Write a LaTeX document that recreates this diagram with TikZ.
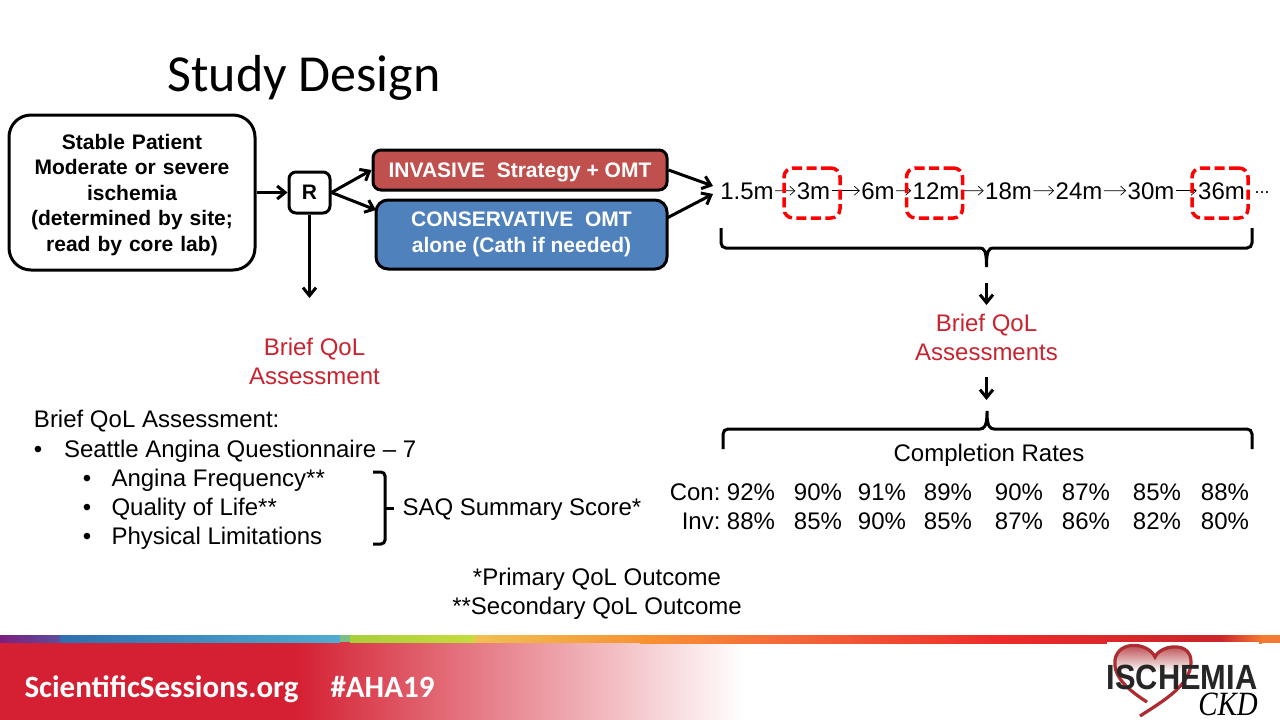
\documentclass[tikz,border=0pt]{standalone}
\usepackage{fontspec}
\setmainfont{Liberation Sans}
\newfontfamily\carlito{Carlito}
\newfontfamily\ckdfont{Liberation Serif}
\usetikzlibrary{arrows.meta}
\definecolor{ahared}{HTML}{D42032}
\definecolor{qolred}{HTML}{C8242F}
\definecolor{invred}{HTML}{C0504D}
\definecolor{conblue}{HTML}{4F81BD}
\definecolor{heartred}{HTML}{AE2B2F}
\begin{document}
\begin{tikzpicture}[x=1pt,y=-1pt,>={Straight Barb[length=8pt,width=13pt,line width=3pt]},line width=3pt,
every node/.style={inner sep=0pt,font=\fontsize{24}{29}\selectfont},
lbl/.style={anchor=base},
lbll/.style={anchor=base west},
qol/.style={anchor=base,text=qolred},
boxtxt/.style={font=\fontsize{21}{25.6}\selectfont\bfseries,align=center},
lowtxt/.style={execute at begin node={\rule{0pt}{20pt}}},
whitebox/.style={boxtxt,lowtxt,draw,rounded corners=22pt,fill=white,text width=246pt,minimum height=155pt},
armbox/.style={boxtxt,lowtxt,draw,text=white,rounded corners=8pt},
dashbox/.style={draw=red,dash pattern=on 10pt off 4.5pt,line width=3.5pt,rounded corners=9pt,minimum width=56pt,minimum height=50pt},
thinarrow/.style={line width=0.7pt,-{Straight Barb[length=5pt,width=9pt,line width=0.7pt]}}]
\useasboundingbox(0,0) rectangle (1280,720);
\node[anchor=base west,font=\carlito\fontsize{52}{62}\selectfont](title) at (166,91){Study Design};
% boxes
\node[whitebox](pat) at (132,192.5){Stable Patient\\Moderate or severe\\ischemia\\(determined by site;\\read by core lab)};
\node[boxtxt,draw,rounded corners=7pt,fill=white,minimum width=41pt,minimum height=41pt](r) at (309.5,192.5){R};
\node[armbox,fill=invred,minimum width=294pt,minimum height=40pt](inv) at (520,170){INVASIVE\ \ Strategy + OMT};
\node[armbox,fill=conblue,rounded corners=12pt,minimum width=291pt,minimum height=69pt](con) at (521.5,234.5){CONSERVATIVE\ \ OMT\\alone (Cath if needed)};
\coordinate(c1) at (376,210);\coordinate(c2) at (667,218);
\coordinate(j1) at (713,186);\coordinate(j2) at (713,194);
\coordinate(d1) at (309.5,298);
\draw[->](pat.east|-r)--(r);
\draw[->](r.east)--(inv.west);\draw[->](r.east)--(c1);
\draw[->](r)--(d1);
\draw[->](inv.east)--(j1);\draw[->](c2)--(j2);
% timeline
\node[lbl](t1) at (747,199){1.5m};\node[lbl](t2) at (813.5,199){3m};
\node[lbl](t3) at (878,199){6m};\node[lbl](t4) at (936,199){12m};
\node[lbl](t5) at (1008.5,199){18m};\node[lbl](t6) at (1079,199){24m};
\node[lbl](t7) at (1151,199){30m};\node[lbl](t8) at (1221.5,199){36m};
\node[lbl,font=\fontsize{18}{20}\selectfont](t9) at (1262,193){...};
\draw[thinarrow](t1)--(t2);\draw[thinarrow](t2)--(t3);\draw[thinarrow](t3)--(t4);\draw[thinarrow](t4)--(t5);
\draw[thinarrow](t5)--(t6);\draw[thinarrow](t6)--(t7);\draw[thinarrow](t7)--(t8);
\node[dashbox](d3m) at (812,193){};\node[dashbox](d12m) at (934.5,193){};\node[dashbox](d36m) at (1220,193){};
% braces
\draw[rounded corners=5pt](721,228)--(721,248)--(975,248)..controls (984,248) and (986.5,251)..(986.5,270)..controls (986.5,251) and (989,248)..(998,248)--(1252,248)--(1252,228);
\draw[rounded corners=5pt](723,449)--(723,429)--(975,429)..controls (984,429) and (987,426)..(987,408)..controls (987,426) and (990,429)..(999,429)--(1252,429)--(1252,449);
\draw[rounded corners=4pt](373,472)--(385,472)--(385,544)--(373,544);
\coordinate(b1) at (385,508);\coordinate(b2) at (394,508);\coordinate(q1) at (986.5,283);\coordinate(q2) at (986.5,305);\coordinate(q3) at (986.5,377);\coordinate(q4) at (986.5,400);
\draw(b1)--(b2);
\draw[->](q1)--(q2);\draw[->](q3)--(q4);
% red labels
\node[qol](qa) at (314.5,355){Brief QoL};\node[qol](qb) at (314.5,384){Assessment};
\node[qol](qc) at (986.5,331){Brief QoL};\node[qol](qd) at (986.5,360){Assessments};
% list
\node[lbll](l0) at (32.5,427){Brief QoL Assessment:};
\node[lbl](b0) at (38,457){•};\node[lbll](l1) at (62.5,457){Seattle Angina Questionnaire – 7};
\node[lbl](b2a) at (87,486){•};\node[lbll](l2) at (110,486){Angina Frequency**};
\node[lbl](b3a) at (87,515){•};\node[lbll](l3) at (110,515){Quality of Life**};
\node[lbl](b4a) at (87,544){•};\node[lbll](l4) at (110,544){Physical Limitations};
\node[lbll](saq) at (401,515){SAQ Summary Score*};
\node[lbl](f1) at (597,585){*Primary QoL Outcome};
\node[lbl](f2) at (597,614){**Secondary QoL Outcome};
% table
\node[lbl](cr) at (989,461){Completion Rates};
\node[anchor=base east](con0) at (722,500){Con:};\node[anchor=base east](inv0) at (722,529){Inv:};
\node[lbl](c1a) at (751,500){92\%};\node[lbl](c2a) at (818,500){90\%};\node[lbl](c3a) at (882,500){91\%};\node[lbl](c4a) at (948,500){89\%};
\node[lbl](c5a) at (1019,500){90\%};\node[lbl](c6a) at (1086,500){87\%};\node[lbl](c7a) at (1157,500){85\%};\node[lbl](c8a) at (1225,500){88\%};
\node[lbl](i1a) at (751,529){88\%};\node[lbl](i2a) at (818,529){85\%};\node[lbl](i3a) at (882,529){90\%};\node[lbl](i4a) at (948,529){85\%};
\node[lbl](i5a) at (1019,529){87\%};\node[lbl](i6a) at (1086,529){86\%};\node[lbl](i7a) at (1157,529){82\%};\node[lbl](i8a) at (1225,529){80\%};
% footer
\definecolor{barb}{HTML}{7B1F7E}\definecolor{barc}{HTML}{5B4E9E}\definecolor{bard}{HTML}{2F6FB0}\definecolor{bare}{HTML}{50ACD0}
\definecolor{barf}{HTML}{A8CE3A}\definecolor{barg}{HTML}{C5DC3A}\definecolor{barh}{HTML}{EFC050}\definecolor{bari}{HTML}{F79433}
\definecolor{barj}{HTML}{F4683A}\definecolor{bark}{HTML}{EE2A2A}\definecolor{barl}{HTML}{CC252A}\definecolor{barm}{HTML}{F47A30}
\fill[ahared](0,642) rectangle (296,720);
\shade[left color=ahared,right color=white](295.5,642) rectangle (745,720);
\shade[left color=barb,right color=barc](0,635) rectangle (60,642);
\shade[left color=bard,right color=bare](60,635) rectangle (340,642);
\fill[barf!50!bare](340,635) rectangle (350,642);
\shade[left color=barf,right color=barg](350,635) rectangle (475,642);
\shade[left color=barh,right color=bari](475,635) rectangle (640,642);
\shade[left color=bari,right color=barj](640,635) rectangle (790,643);
\shade[left color=barj,right color=bark](790,635) rectangle (1000,643);
\shade[left color=bark,right color=barl](1000,635) rectangle (1205,643);
\fill[barl](1205,635) rectangle (1220,643);
\shade[left color=barl,right color=barm](1220,635) rectangle (1262,643);
\fill[barm](1262,635) rectangle (1280,643);
\node[anchor=base west,text=white,font=\carlito\bfseries\fontsize{31}{36}\selectfont](ss) at (23,697){ScientificSessions.org};
\node[anchor=base west,text=white,font=\carlito\bfseries\fontsize{31}{36}\selectfont](aha) at (329,697){\#AHA19};
% logo
\fill[white](1107,642) rectangle (1259,720);
\shade[top color=heartred,bottom color=white](1155,657)..controls (1148,645) and (1122,640)..(1115,660)..controls (1114,664) and (1115,668)..(1117,672)--(1188,672)..controls (1192,660) and (1192,650)..(1173,646)..controls (1165,645) and (1158,650)..(1155,657)--cycle;
\draw[heartred,line width=3.2pt](1147,702)..controls (1125,688) and (1113,675)..(1115,660)..controls (1118,640) and (1148,642)..(1155,657)..controls (1160,645) and (1192,640)..(1191,663)..controls (1190,685) and (1165,700)..(1140,716);
\node[font=\fontsize{35}{35}\selectfont\bfseries,anchor=base,xscale=0.88,text=black!85](isch) at (1182,689){ISCHEMIA};
\node[font=\ckdfont\fontsize{34}{34}\selectfont\itshape,anchor=base,xscale=0.85,text=black](ckd) at (1228,715){CKD};
\end{tikzpicture}
\end{document}
